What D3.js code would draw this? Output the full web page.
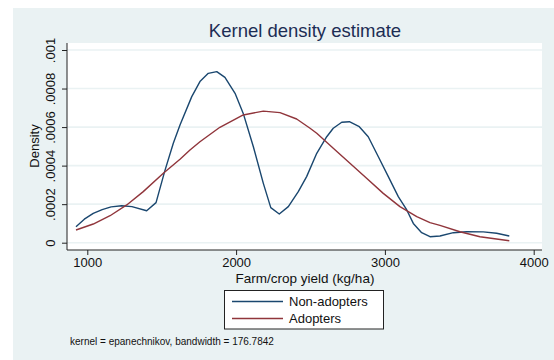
<!DOCTYPE html>
<html>
<head>
<meta charset="utf-8">
<script src="https://cdn.jsdelivr.net/npm/d3@7"></script>
<style>
  html, body { margin: 0; padding: 0; background: #ffffff; }
  svg { display: block; font-family: "Liberation Sans", Arial, sans-serif; }
</style>
</head>
<body>
<svg id="chart" width="554" height="360"></svg>
<script>
// Kernel density of farm/crop yield for the two groups
const nonAdoptX = [924, 980, 1040, 1100, 1160, 1231, 1300, 1399, 1462, 1520, 1578, 1623, 1702, 1757, 1813, 1870, 1925, 1993, 2048, 2116, 2183, 2233, 2290, 2351, 2418, 2474, 2542, 2609, 2653, 2710, 2761, 2828, 2888, 2956, 3023, 3090, 3147, 3191, 3247, 3303, 3370, 3460, 3550, 3661, 3751, 3836];
const nonAdoptY = [0.000083, 0.000122, 0.000152, 0.000172, 0.000186, 0.000192, 0.000187, 0.000166, 0.000208, 0.000370, 0.000516, 0.000611, 0.000758, 0.000836, 0.000879, 0.000888, 0.000858, 0.000775, 0.000671, 0.000498, 0.000308, 0.000182, 0.000149, 0.000187, 0.000265, 0.000343, 0.000464, 0.000550, 0.000594, 0.000625, 0.000628, 0.000602, 0.000550, 0.000446, 0.000343, 0.000239, 0.000170, 0.000100, 0.000052, 0.000031, 0.000035, 0.000052, 0.000057, 0.000056, 0.000049, 0.000035];

const adoptX = [924, 1040, 1153, 1265, 1376, 1511, 1623, 1690, 1757, 1891, 2048, 2183, 2295, 2407, 2497, 2542, 2653, 2765, 2877, 2989, 3101, 3214, 3303, 3370, 3504, 3639, 3836];
const adoptY = [0.000066, 0.000097, 0.000140, 0.000196, 0.000265, 0.000360, 0.000433, 0.000481, 0.000524, 0.000599, 0.000663, 0.000683, 0.000675, 0.000642, 0.000594, 0.000568, 0.000490, 0.000412, 0.000334, 0.000256, 0.000187, 0.000135, 0.000104, 0.000090, 0.000057, 0.000031, 0.000010];

const xTicks = [1000, 2000, 3000, 4000];
const yTicks = [0, 0.0002, 0.0004, 0.0006, 0.0008, 0.001];
const yTickLabels = ["0", ".0002", ".0004", ".0006", ".0008", ".001"];
const seriesNames = ["Non-adopters", "Adopters"];
const seriesColors = ["#1a476f", "#90353b"];

const bg = "#eaf2f3";
const svg = d3.select("#chart");

// graph region background
svg.append("rect").attr("x", 13).attr("y", 8).attr("width", 541).attr("height", 352).attr("fill", bg);

// plot region
const plot = { left: 67, right: 542, top: 43, bottom: 250 };
svg.append("rect")
  .attr("x", plot.left).attr("y", plot.top)
  .attr("width", plot.right - plot.left).attr("height", plot.bottom - plot.top)
  .attr("fill", "#ffffff");

const x = d3.scaleLinear().domain([1000, 4000]).range([87.3, 533.7]);
const y = d3.scaleLinear().domain([0, 0.001]).range([242.7, 50]);

// horizontal gridlines
svg.append("g").selectAll("line").data(yTicks).join("line")
  .attr("x1", plot.left).attr("x2", plot.right)
  .attr("y1", d => y(d)).attr("y2", d => y(d))
  .attr("stroke", bg).attr("stroke-width", 1.6);

// y axis
const yAxis = d3.axisLeft(y).tickValues(yTicks)
  .tickFormat((d, i) => yTickLabels[i]).tickSize(5).tickPadding(4);
const gy = svg.append("g").attr("transform", `translate(${plot.left},0)`).call(yAxis);
gy.select(".domain").attr("d", `M0,${plot.top}V${plot.bottom}`).attr("stroke", "#222");
gy.selectAll(".tick line").attr("stroke", "#222");
gy.selectAll(".tick text")
  .attr("font-size", 13).attr("fill", "#111")
  .attr("text-anchor", "middle")
  .attr("transform", d => `rotate(-90, -13, 0)`)
  .attr("x", -13).attr("dy", "0.35em").attr("y", -4);

// x axis
const xAxis = d3.axisBottom(x).tickValues(xTicks).tickFormat(d3.format("d")).tickSize(5).tickPadding(3);
const gx = svg.append("g").attr("transform", `translate(0,${plot.bottom})`).call(xAxis);
gx.select(".domain").attr("d", `M${plot.left},0H${plot.right}`).attr("stroke", "#222");
gx.selectAll(".tick line").attr("stroke", "#222");
gx.selectAll(".tick text").attr("font-size", 13).attr("fill", "#111");

svg.selectAll(".tick text").attr("font-family", "Liberation Sans, Arial, sans-serif");

// density curves
const line = d3.line().x(d => x(d[0])).y(d => y(d[1]));
const series = [
  d3.zip(nonAdoptX, nonAdoptY),
  d3.zip(adoptX, adoptY)
];
series.forEach((pts, i) => {
  svg.append("path").datum(pts)
    .attr("d", line)
    .attr("fill", "none")
    .attr("stroke", seriesColors[i])
    .attr("stroke-width", 1.4)
    .attr("stroke-linejoin", "round");
});

// title
svg.append("text").attr("x", 305).attr("y", 37)
  .attr("text-anchor", "middle").attr("font-size", 18.5).attr("fill", "#1c2d54")
  .text("Kernel density estimate");

// axis titles
svg.append("text").attr("x", 305).attr("y", 283)
  .attr("text-anchor", "middle").attr("font-size", 13.5).attr("fill", "#111")
  .text("Farm/crop yield (kg/ha)");
svg.append("text")
  .attr("transform", "translate(39,146) rotate(-90)")
  .attr("text-anchor", "middle").attr("font-size", 13).attr("fill", "#111")
  .text("Density");

// legend
const lg = svg.append("g");
lg.append("rect").attr("x", 224.5).attr("y", 290.5).attr("width", 159).attr("height", 38.5)
  .attr("fill", "#ffffff").attr("stroke", "#222").attr("stroke-width", 1);
seriesNames.forEach((name, i) => {
  const ly = 301.5 + i * 17;
  lg.append("line").attr("x1", 232).attr("x2", 283).attr("y1", ly).attr("y2", ly)
    .attr("stroke", seriesColors[i]).attr("stroke-width", 1.4);
  lg.append("text").attr("x", 289).attr("y", ly + 4.5)
    .attr("font-size", 13).attr("fill", "#111").text(name);
});

// note
svg.append("text").attr("x", 70).attr("y", 345)
  .attr("font-size", 10).attr("fill", "#111")
  .text("kernel = epanechnikov, bandwidth = 176.7842");
</script>
</body>
</html>
